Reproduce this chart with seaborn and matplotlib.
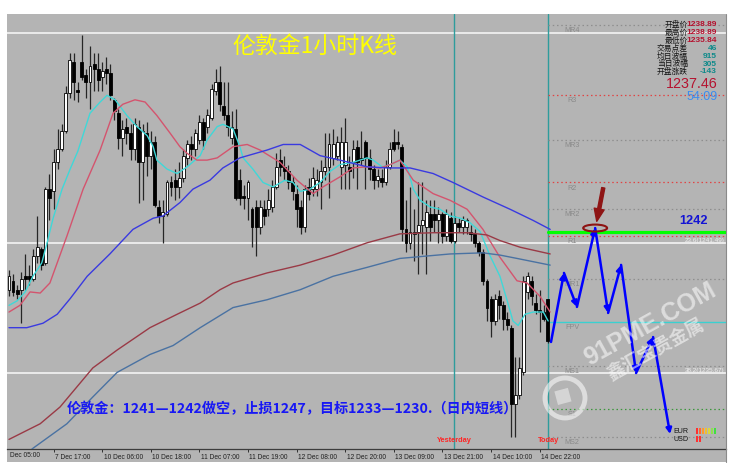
import matplotlib
matplotlib.use("Agg")
import matplotlib.pyplot as plt
import matplotlib.transforms as mtransforms
from matplotlib.patches import Ellipse, Rectangle, Circle
from matplotlib.lines import Line2D
import numpy as np
import pandas as pd
import seaborn as sns


W, H, DPI = 733, 473, 100
BG = "#b4b4b4"
CJK = ["Noto Sans CJK SC", "DejaVu Sans"]

# London gold, 1-hour candles (bar 0 = first visible bar)
opens = [
    1239.4, 1239.8, 1239.4, 1239.4, 1240.0, 1240.0, 1239.9, 1240.9, 1241.2, 1240.6,
    1243.9, 1243.8, 1245.1, 1245.7, 1246.5, 1248.2, 1249.6, 1248.35, 1249.6, 1249.0,
    1248.7, 1249.5, 1249.3, 1248.9, 1249.3, 1249.1, 1247.9, 1247.3, 1246.2, 1246.7,
    1246.4, 1245.7, 1246.7, 1245.1, 1246.4, 1245.4, 1246.0, 1243.1, 1242.7, 1242.8,
    1244.2, 1244.3, 1244.0, 1244.4, 1245.3, 1245.9, 1245.7, 1246.1, 1246.9, 1246.7,
    1247.1, 1248.3, 1248.7, 1247.6, 1247.2, 1246.2, 1246.6, 1244.3, 1243.6, 1243.5,
    1243.0, 1243.1, 1242.2, 1243.0, 1243.0, 1243.1, 1244.0, 1245.2, 1244.9, 1244.7,
    1244.2, 1243.7, 1243.1, 1242.2, 1244.0, 1243.9, 1243.9, 1244.2, 1244.7, 1244.9,
    1245.3, 1245.4, 1244.9, 1245.0, 1244.9, 1245.1, 1245.8, 1245.3, 1246.0, 1245.3,
    1244.8, 1244.3, 1244.4, 1244.2, 1244.9, 1246.0, 1246.0, 1245.8, 1242.1, 1241.5,
    1241.9, 1242.0, 1242.3, 1242.2, 1242.8, 1242.8, 1242.5, 1242.8, 1241.8, 1242.6,
    1241.6, 1242.4, 1242.2, 1242.2, 1242.0, 1241.9, 1241.5, 1241.1, 1239.8, 1239.0,
    1238.0, 1239.1, 1238.7, 1238.1, 1237.7, 1234.3, 1234.7, 1235.7, 1239.3, 1239.8,
    1238.8, 1238.5, 1238.4, 1239.0,
]
highs = [
    1240.3, 1240.1, 1239.6, 1240.2, 1241.0, 1240.5, 1241.2, 1242.7, 1241.3, 1244.0,
    1244.6, 1245.7, 1246.6, 1246.8, 1248.5, 1250.0, 1250.0, 1248.7, 1250.8, 1249.3,
    1250.3, 1250.0, 1250.0, 1249.6, 1249.8, 1249.5, 1248.0, 1247.5, 1247.0, 1247.1,
    1246.8, 1247.1, 1247.0, 1246.8, 1246.9, 1246.5, 1246.3, 1243.4, 1243.4, 1244.3,
    1244.5, 1244.8, 1245.1, 1245.7, 1246.1, 1246.3, 1246.6, 1247.2, 1247.1, 1247.5,
    1248.6, 1249.3, 1249.4, 1248.7, 1248.7, 1247.4, 1247.5, 1244.8, 1244.1, 1244.3,
    1243.1, 1243.4, 1243.4, 1243.4, 1243.9, 1244.3, 1245.5, 1245.7, 1245.4, 1245.0,
    1244.5, 1244.1, 1243.4, 1244.1, 1244.4, 1244.9, 1244.8, 1245.2, 1246.4, 1246.4,
    1246.6, 1246.3, 1246.7, 1247.1, 1245.4, 1246.1, 1246.1, 1246.5, 1246.1, 1245.7,
    1245.0, 1244.8, 1244.8, 1245.2, 1246.0, 1246.6, 1246.5, 1245.9, 1243.4, 1244.0,
    1243.0, 1244.2, 1244.2, 1243.4, 1243.4, 1243.4, 1243.1, 1242.9, 1243.0, 1242.9,
    1242.7, 1242.6, 1242.7, 1242.6, 1242.3, 1242.1, 1241.6, 1241.2, 1239.9, 1239.1,
    1239.2, 1239.4, 1238.9, 1238.4, 1237.8, 1236.4, 1236.4, 1240.0, 1240.2, 1240.0,
    1239.2, 1239.4, 1238.7, 1239.0,
]
lows = [
    1239.1, 1239.1, 1239.0, 1237.9, 1239.4, 1239.6, 1239.8, 1240.6, 1240.3, 1240.5,
    1242.5, 1243.0, 1244.8, 1245.6, 1246.4, 1248.0, 1247.9, 1247.8, 1248.8, 1248.0,
    1247.5, 1248.3, 1248.3, 1248.3, 1248.6, 1247.9, 1247.0, 1245.7, 1245.4, 1245.9,
    1245.2, 1245.2, 1243.3, 1243.4, 1244.5, 1244.8, 1243.1, 1242.4, 1241.5, 1242.7,
    1243.6, 1243.4, 1243.5, 1244.2, 1245.0, 1245.2, 1245.4, 1245.9, 1245.7, 1246.4,
    1247.0, 1248.1, 1247.4, 1247.0, 1246.3, 1245.9, 1243.4, 1243.2, 1243.0, 1242.5,
    1241.3, 1240.9, 1241.9, 1242.3, 1242.7, 1242.9, 1243.9, 1244.5, 1244.3, 1243.9,
    1243.4, 1242.2, 1241.9, 1242.0, 1243.4, 1243.6, 1243.6, 1243.0, 1244.3, 1243.5,
    1245.0, 1245.2, 1243.9, 1243.9, 1243.9, 1244.4, 1243.9, 1245.0, 1243.9, 1244.3,
    1243.9, 1244.0, 1244.0, 1244.1, 1244.8, 1245.6, 1245.7, 1241.6, 1241.1, 1241.2,
    1240.7, 1240.1, 1241.0, 1240.1, 1241.6, 1242.0, 1241.5, 1241.5, 1241.6, 1241.5,
    1241.5, 1242.0, 1241.9, 1241.9, 1241.6, 1241.3, 1240.9, 1239.6, 1238.0, 1237.3,
    1237.8, 1238.1, 1237.6, 1237.6, 1232.8, 1232.8, 1234.5, 1235.6, 1239.0, 1238.7,
    1238.3, 1237.5, 1238.0, 1237.0,
]
closes = [
    1240.0, 1239.3, 1239.2, 1239.9, 1239.9, 1239.9, 1240.9, 1241.3, 1240.5, 1243.9,
    1243.5, 1245.1, 1245.7, 1246.5, 1248.2, 1249.7, 1248.7, 1248.25, 1248.9, 1248.7,
    1249.4, 1249.3, 1248.8, 1249.2, 1249.1, 1248.1, 1247.4, 1246.2, 1246.6, 1246.4,
    1245.7, 1246.8, 1245.1, 1246.5, 1245.4, 1246.0, 1243.2, 1242.7, 1242.9, 1244.2,
    1244.0, 1244.0, 1244.4, 1245.4, 1245.9, 1245.7, 1246.4, 1246.9, 1246.1, 1247.2,
    1248.4, 1248.7, 1247.7, 1247.2, 1246.7, 1246.7, 1243.5, 1243.5, 1243.5, 1244.2,
    1242.2, 1242.2, 1243.1, 1242.7, 1243.4, 1244.0, 1244.9, 1244.9, 1244.7, 1244.2,
    1243.8, 1243.0, 1242.2, 1243.9, 1243.7, 1244.4, 1244.3, 1244.7, 1244.9, 1245.9,
    1245.9, 1246.0, 1246.0, 1246.0, 1244.7, 1245.7, 1245.1, 1245.2, 1245.3, 1244.8,
    1244.3, 1244.5, 1244.2, 1244.9, 1245.7, 1245.7, 1245.9, 1242.1, 1241.5, 1242.0,
    1242.0, 1242.3, 1242.5, 1242.9, 1242.2, 1242.5, 1242.8, 1241.8, 1242.8, 1241.6,
    1242.4, 1242.2, 1242.5, 1242.5, 1241.9, 1241.5, 1241.1, 1239.8, 1238.6, 1238.0,
    1239.0, 1238.7, 1238.1, 1237.8, 1234.3, 1234.7, 1235.9, 1239.8, 1240.0, 1239.1,
    1238.5, 1238.4, 1238.1, 1237.1,
]

# moving averages, read at sample bars
ma_fast_bars = [0, 2.0, 4.0, 5.9, 8.1, 9.4, 10.9, 13.1, 15.1, 17.0,
                20.0, 22.5, 24.2, 26.2, 29.1, 31.6, 34.1, 35.6, 36.5, 39.0,
                41.5, 44.0, 47.2, 48.9, 51.4, 52.8, 55.3, 57.0, 57.8, 60.2,
                62.7, 65.2, 68.1, 70.1, 71.9, 74.3, 76.8, 79.3, 81.7, 84.9,
                88.4, 89.9, 92.1, 94.1, 96.5, 98.3, 99.8, 101.5, 104.0, 106.4,
                108.9, 111.4, 113.8, 116.3, 118.8, 121.2, 123.0, 124.4, 125.7, 127.4,
                129.4, 131.9, 133.1]
ma_fast = [1238.7, 1238.9, 1239.3, 1240.0, 1240.6, 1241.5, 1242.6, 1243.9, 1244.8, 1245.6,
           1247.3, 1247.8, 1248.1, 1247.9, 1247.2, 1246.7, 1246.3, 1245.8, 1245.2, 1244.8,
           1244.6, 1244.9, 1245.4, 1246.1, 1246.7, 1246.8, 1246.6, 1245.8, 1245.3, 1244.8,
           1244.2, 1244.0, 1244.3, 1244.2, 1243.8, 1243.9, 1244.2, 1244.7, 1245.0, 1245.1,
           1245.3, 1245.2, 1244.9, 1245.0, 1245.2, 1244.9, 1243.9, 1243.4, 1243.1, 1243.0,
           1242.7, 1242.6, 1242.4, 1242.0, 1240.9, 1240.0, 1238.9, 1238.0, 1237.8, 1238.3,
           1238.4, 1238.4, 1238.0]
ma_mid_bars = [0, 2.7, 5.2, 7.7, 10.1, 14.3, 18.3, 22.5, 25.7, 28.1,
               31.1, 33.6, 36.5, 39.8, 42.2, 44.0, 46.4, 48.9, 51.4, 55.3,
               58.8, 62.0, 66.9, 71.1, 75.1, 77.5, 81.7, 84.9, 88.4, 91.6,
               94.1, 96.5, 99.8, 104.7, 108.9, 113.1, 117.0, 121.2, 125.4, 127.9,
               131.1, 133.6]
ma_mid = [1238.4, 1238.7, 1239.3, 1239.25, 1239.7, 1241.8, 1243.9, 1245.65, 1247.3, 1247.7,
          1247.9, 1247.8, 1247.2, 1246.4, 1245.8, 1245.5, 1245.2, 1245.2, 1245.3, 1245.8,
          1245.9, 1245.65, 1245.1, 1244.3, 1243.7, 1244.0, 1244.45, 1244.85, 1244.9, 1244.85,
          1245.0, 1245.2, 1244.3, 1243.7, 1243.4, 1243.0, 1242.1, 1240.85, 1239.8, 1239.7,
          1239.1, 1238.4]
ma_slow_bars = [0, 4.4, 8.4, 11.9, 15.1, 19.3, 24.9, 30.6, 35.6, 38.0,
                42.2, 45.4, 49.6, 52.8, 57.0, 63.7, 67.7, 71.9, 76.8, 81.7,
                88.4, 93.3, 99.0, 104.7, 109.6, 117.0, 123.7, 129.4, 133.6]
ma_slow = [1237.7, 1237.7, 1237.9, 1238.3, 1239.0, 1240.0, 1241.0, 1242.1, 1242.6, 1242.7,
           1243.3, 1243.9, 1244.3, 1244.85, 1245.3, 1245.65, 1245.9, 1245.9, 1245.4, 1245.2,
           1244.9, 1244.85, 1244.85, 1244.6, 1244.2, 1243.55, 1243.0, 1242.5, 1242.1]
ma_long_bars = [0, 7.7, 12.6, 20.7, 26.7, 34.8, 41.5, 47.2, 52.1, 55.3,
                63.7, 71.9, 80.0, 88.4, 96.5, 104.7, 113.1, 118.0, 121.2, 126.2, 133.6]
ma_long = [1232.7, 1233.4, 1234.15, 1235.9, 1236.7, 1237.7, 1238.3, 1238.8, 1239.4, 1239.7,
           1240.15, 1240.5, 1240.95, 1241.5, 1241.9, 1241.95, 1241.95, 1241.85, 1241.6, 1241.3, 1241.0]
ma_longest_bars = [2.7, 5.9, 14.3, 20.7, 26.7, 34.8, 40.5, 47.2, 55.3, 63.7,
                   71.9, 80.0, 88.4, 96.5, 108.9, 117.0, 121.2, 125.4, 133.6]
ma_longest = [1231.8, 1232.3, 1233.4, 1234.6, 1235.7, 1236.5, 1236.9, 1237.7, 1238.6, 1238.95,
              1239.4, 1240.0, 1240.4, 1240.8, 1241.0, 1241.05, 1240.95, 1240.8, 1240.5]

# time axis
tick_bars = [11, 23, 35, 47, 59, 71, 83, 95, 107, 119, 131]
tick_labels = ["7 Dec 17:00", "10 Dec 06:00", "10 Dec 18:00", "11 Dec 07:00",
               "11 Dec 19:00", "12 Dec 08:00", "12 Dec 20:00", "13 Dec 09:00",
               "13 Dec 21:00", "14 Dec 10:00", "14 Dec 22:00"]
yesterday_bar, today_bar = 109.9, 133.1

# levels
fib_prices = [1250.9, 1241.49, 1235.67]
fib_labels = ["", "23.6(1241.49)", "38.2(1235.67)"]
pivot_names = ["MR4", "R3", "MR3", "R2", "MR2", "R1", "MR1", "FPV", "MS1", "S1", "MS2"]
pivot_prices = [1251.25, 1248.1, 1246.1, 1244.2, 1243.0, 1241.8, 1239.9, 1237.95, 1236.0, 1234.05, 1232.8]
target_price = 1242

# hand-drawn forecast path
forecast_bars = [133.8, 137.0, 140.2, 144.7, 147.9, 151.1, 154.8, 159.0, 163.2]
forecast_prices = [1237.06, 1240.15, 1238.63, 1242.16, 1238.36, 1240.51, 1235.67, 1237.28, 1232.94]

panel_labels = ["开盘价", "最高价", "最低价", "交易点差", "均日波幅", "当日波幅", "开盘涨跌"]
panel_values = ["1238.89", "1238.89", "1235.84", "46", "915", "305", "-143"]


def px(x, y):
    return x / W, 1 - y / H


sns.set_theme(style="white")
plt.rcParams["font.family"] = ["Liberation Sans", "Noto Sans CJK SC"]

fig = plt.figure(figsize=(W / DPI, H / DPI), dpi=DPI, facecolor="white")
fig.add_artist(Rectangle(px(7, 462), (726 - 7) / W, (462 - 14) / H, transform=fig.transFigure,
                         facecolor=BG, edgecolor="none", zorder=0))
fig.add_artist(Line2D([726 / W] * 2, [1 - 14 / H, 1 - 462 / H], color="#8a8a8a", lw=0.8))
ax = fig.add_axes([7 / W, (H - 449) / H, (726 - 7) / W, (449 - 14) / H])
ax.set_facecolor(BG)

# fib lines
for p, lab in zip(fib_prices, fib_labels):
    ax.axhline(p, color="#f4f4f4", lw=1.2, zorder=2)
    if lab:
        ax.text(0.9985, p, lab, transform=ax.get_yaxis_transform(), ha="right", va="bottom",
                fontsize=4.6, color="#f0f0f0", zorder=2)

# day separators
for b in [yesterday_bar, today_bar]:
    ax.axvline(b, color="#2e9c9c", lw=1.0, zorder=2)

# candles
df = pd.DataFrame({"bar": np.arange(len(opens)), "open": opens, "high": highs,
                   "low": lows, "close": closes})
up = df["close"] >= df["open"]
ax.vlines(df["bar"], df["low"], df["high"], color="#262626", lw=0.9, zorder=3)
body_lo = df[["open", "close"]].min(axis=1)
body_h = (df["close"] - df["open"]).abs().clip(lower=0.04)
ax.bar(df["bar"], body_h, bottom=body_lo, width=0.72,
       color=np.where(up, "white", "black"), edgecolor="black", linewidth=0.6, zorder=4)

# moving averages
ma_colors = {"fast": "#3fd8d8", "mid": "#d4546e", "slow": "#3a3ae0",
             "long": "#9a3a46", "longest": "#4a72a2"}
ma = pd.concat([
    pd.DataFrame({"bar": ma_fast_bars, "price": ma_fast, "line": "fast"}),
    pd.DataFrame({"bar": ma_mid_bars, "price": ma_mid, "line": "mid"}),
    pd.DataFrame({"bar": ma_slow_bars, "price": ma_slow, "line": "slow"}),
    pd.DataFrame({"bar": ma_long_bars, "price": ma_long, "line": "long"}),
    pd.DataFrame({"bar": ma_longest_bars, "price": ma_longest, "line": "longest"}),
], ignore_index=True)
sns.lineplot(data=ma, x="bar", y="price", hue="line", palette=ma_colors, estimator=None,
             sort=False, legend=False, linewidth=1.0, ax=ax, zorder=5)

xmax = 177.0
# pivot levels (right side)
for name, p in zip(pivot_names, pivot_prices):
    if name == "FPV":
        ax.plot([today_bar, xmax], [p, p], color="#3ad0d0", lw=1.0, zorder=2)
    else:
        col = "#e04444" if name.startswith("R") else ("#3c963c" if name == "S1" else "#8e8e8e")
        ax.plot([today_bar, xmax], [p, p], color=col, lw=0.9, ls=(0, (1.2, 2.2)), zorder=2)
    ax.annotate(name, (139.0, p), xytext=(0, -1.5), textcoords="offset points",
                ha="center", va="top", fontsize=5.2, color="#8a8a8a", zorder=2)

ax.plot([today_bar, xmax], [target_price, target_price], color="#00ff00", lw=2.3, zorder=6)
ax.annotate(str(target_price), (169.1, target_price), xytext=(0, 3.5), textcoords="offset points",
            ha="center", va="bottom", fontsize=9.2, fontweight="bold", color="#1414d4", zorder=7)

# forecast zigzag
for i in range(len(forecast_bars) - 1):
    ax.annotate("", xy=(forecast_bars[i + 1], forecast_prices[i + 1]),
                xytext=(forecast_bars[i], forecast_prices[i]),
                arrowprops=dict(arrowstyle="-|>", color="#0000ff", lw=1.8,
                                mutation_scale=8, shrinkA=0, shrinkB=0), zorder=8)
peak = int(np.argmax(forecast_prices))
ax.add_patch(Ellipse((forecast_bars[peak], forecast_prices[peak]), 5.9, 0.31,
                     fill=False, edgecolor="#8e1414", lw=1.5, zorder=9))
ax.annotate("", xy=(forecast_bars[peak] + 0.4, forecast_prices[peak] + 0.3),
            xytext=(forecast_bars[peak] + 2.0, forecast_prices[peak] + 1.8),
            arrowprops=dict(arrowstyle="simple,head_length=1.0,head_width=0.8,tail_width=0.25",
                            color="#8e1414", mutation_scale=9, shrinkA=0, shrinkB=0), zorder=9)

# axes cosmetics
ax.set_xlim(-0.49, xmax)
ax.set_ylim(1232.27, 1251.74)
for side in ["top", "left", "right"]:
    ax.spines[side].set_visible(False)
ax.spines["bottom"].set_color("#3c3c3c")
ax.spines["bottom"].set_linewidth(0.9)
ax.set_yticks([])
ax.set_xticks(tick_bars)
ax.set_xticklabels(tick_labels, ha="left", fontsize=4.8, color="#202020")
ax.tick_params(axis="x", direction="out", length=2.5, width=0.7, color="#303030", pad=1.2, bottom=True)
ax.set_xlabel("")
ax.set_ylabel("")
shift = mtransforms.ScaledTranslation(1.5 / DPI, 0, fig.dpi_scale_trans)
for lab in ax.get_xticklabels():
    lab.set_transform(lab.get_transform() + shift)
fig.text(*px(10, 455.5), "Dec 05:00", fontsize=4.8, color="#202020", ha="left", va="center")

for b, lab in [(yesterday_bar, "Yesterday"), (today_bar, "Today")]:
    ax.text(b, 1232.67, lab, ha="center", va="center", fontsize=5.3,
            fontweight="bold", color="#ff2424", zorder=7)

# titles and notes
fig.text(*px(232, 46), "伦敦金1小时K线", family=CJK, fontsize=16.5, color="#ffff00",
         ha="left", va="center")
fig.text(*px(67, 409), "伦敦金：1241—1242做空，止损1247，目标1233—1230.（日内短线）",
         family=CJK, fontsize=10.2, fontweight="bold", color="#1818f4", ha="left", va="center")

# info panel
rows_y = [25, 33, 41, 49, 56.5, 64, 71.5]
for i, (lab, val) in enumerate(zip(panel_labels, panel_values)):
    fig.text(*px(688, rows_y[i]), lab, family=CJK, fontsize=5.6, color="#151515",
             ha="right", va="center")
    fig.text(*px(717, rows_y[i]), val, fontsize=6.0, fontweight="bold",
             color="#b5122f" if i < 3 else "#0e8a8a", ha="right", va="center")
fig.text(*px(718, 84), "1237.46", fontsize=10.3, color="#b5122f", ha="right", va="center")
fig.text(*px(718, 97.5), "54:09", fontsize=9.0, color="#3a8cf0", ha="right", va="center")

# currency strength
fig.text(*px(673, 431), "EUR", fontsize=5.1, color="#151515", ha="left", va="center")
fig.text(*px(673, 439), "USD", fontsize=5.1, color="#151515", ha="left", va="center")
for k, c in enumerate(["#ff3030", "#ff6a30", "#ff9a30", "#f0c030", "#d8d840", "#90e050", "#40e040"]):
    fig.add_artist(Rectangle(px(696 + 3 * k, 434), 2 / W, 6 / H, transform=fig.transFigure,
                             facecolor=c, edgecolor="none"))
for k in range(2):
    fig.add_artist(Rectangle(px(696 + 3 * k, 442), 2 / W, 6 / H, transform=fig.transFigure,
                             facecolor="#ff3030", edgecolor="none"))

# watermark
wm = (1, 1, 1, 0.55)
fig.text(*px(650, 324), "91PME.COM", fontsize=18, fontweight="bold", color=wm,
         rotation=29, ha="center", va="center", rotation_mode="anchor", zorder=20)
fig.text(*px(656, 350), "鑫汇宝贵金属", family=CJK, fontsize=13, fontweight="bold", color=wm,
         rotation=29, ha="center", va="center", rotation_mode="anchor", zorder=20)
fig.add_artist(Circle((5.65, (H - 398) / DPI), 0.2, transform=fig.dpi_scale_trans,
                      fill=False, edgecolor=wm, lw=3.5, zorder=20))
fig.add_artist(Rectangle((5.58, (H - 405) / DPI), 0.14, 0.14, angle=15, transform=fig.dpi_scale_trans,
                         facecolor=(1, 1, 1, 0.45), edgecolor="none", zorder=20))

fig.savefig("out.png", dpi=DPI, facecolor="white")
